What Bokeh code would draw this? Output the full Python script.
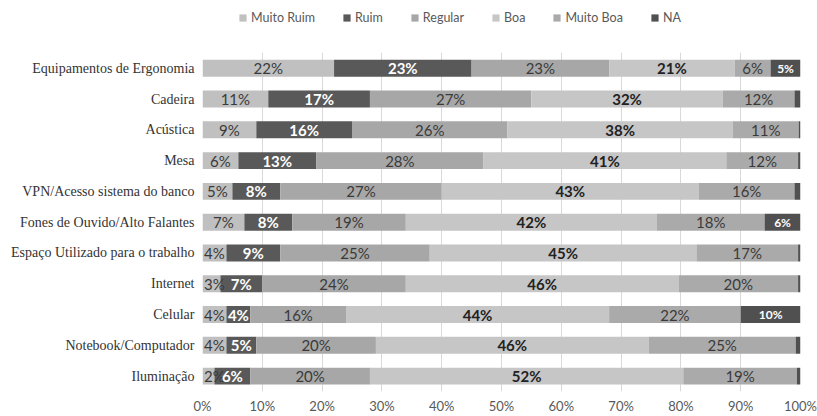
from bokeh.plotting import figure
from bokeh.models import (ColumnDataSource, Range1d, FixedTicker, LabelSet,
                          CustomJSTickFormatter, Legend, LegendItem, BoxAnnotation)
from bokeh.core.properties import value
from bokeh.embed import file_html
from bokeh.resources import INLINE

categories = ["Equipamentos de Ergonomia", "Cadeira", "Acústica", "Mesa",
              "VPN/Acesso sistema do banco", "Fones de Ouvido/Alto Falantes",
              "Espaço Utilizado para o trabalho", "Internet", "Celular",
              "Notebook/Computador", "Iluminação"]
levels = ["Muito Ruim", "Ruim", "Regular", "Boa", "Muito Boa", "NA"]

muito_ruim = [22, 11, 9, 6, 5, 7, 4, 3, 4, 4, 2]
ruim = [23, 17, 16, 13, 8, 8, 9, 7, 4, 5, 6]
regular = [23, 27, 26, 28, 27, 19, 25, 24, 16, 20, 20]
boa = [21, 32, 37.7, 40.6, 43, 42, 44.6, 45.6, 44, 45.6, 52.4]
muito_boa = [6, 12, 11, 12, 16, 18, 17, 20, 22, 24.6, 19]
na = [5, 1, 0.3, 0.4, 1, 6, 0.4, 0.4, 10, 0.8, 0.6]

x_ticks = [0, 10, 20, 30, 40, 50, 60, 70, 80, 90, 100]

colors = ["#c0c0c0", "#595959", "#a7a7a7", "#c6c6c6", "#aaaaaa", "#505050"]
label_colors = ["#3a3a3a", "#ffffff", "#3a3a3a", "#222222", "#3a3a3a", "#ffffff"]
label_styles = ["normal", "bold", "normal", "bold", "normal", "bold"]
label_sizes = ["15px", "15px", "15px", "15px", "15px", "12px"]

n = len(categories)
row_pos = [n - 1 - i for i in range(n)]  # top row first

series = [muito_ruim, ruim, regular, boa, muito_boa, na]
data = {"y": row_pos}
for name, vals in zip(levels, series):
    data[name] = vals
source = ColumnDataSource(data)

p = figure(width=817, height=416, output_backend="svg", toolbar_location=None,
           x_range=Range1d(0, 100), y_range=Range1d(-0.5, n - 0.5 + 1.70),
           min_border_left=202, min_border_right=17, min_border_top=0,
           min_border_bottom=22)
p.outline_line_color = None

renderers = p.hbar_stack(levels, y="y", height=0.55, color=colors,
                         source=source, line_color=None)

for i, name in enumerate(levels):
    xs, ys, ts = [], [], []
    for j in range(n):
        left = sum(series[k][j] for k in range(i))
        v = series[i][j]
        if v >= 1.5:
            # keep narrow first-segment labels inside the plotting frame
            xs.append(max(left + v / 2, 2.0))
            ys.append(row_pos[j])
            ts.append(f"{v:.0f}%")
    ls = ColumnDataSource(dict(x=xs, y=ys, t=ts))
    p.add_layout(LabelSet(x="x", y="y", text="t", source=ls, text_align="center",
                          text_baseline="middle", text_color=label_colors[i],
                          text_font=value("Lato"), text_font_size=value(label_sizes[i]),
                          text_font_style=label_styles[i]))

p.xgrid.grid_line_color = "#d9d9d9"
p.ygrid.grid_line_color = None
p.xaxis.ticker = FixedTicker(ticks=x_ticks)
p.xgrid.ticker = FixedTicker(ticks=x_ticks)
p.xaxis.formatter = CustomJSTickFormatter(code="return tick + '%';")
p.xaxis.axis_line_color = None
p.xaxis.major_tick_line_color = None
p.xaxis.minor_tick_line_color = None
p.xaxis.major_tick_out = 0
p.xaxis.minor_tick_out = 0
p.xaxis.major_label_text_font = "Lato"
p.xaxis.major_label_text_font_size = "13px"
p.xaxis.major_label_text_color = "#595959"
p.xaxis.major_label_standoff = 6

p.yaxis.ticker = FixedTicker(ticks=row_pos)
p.yaxis.major_label_overrides = {row_pos[j]: categories[j] for j in range(n)}
p.yaxis.axis_line_color = None
p.yaxis.major_tick_line_color = None
p.yaxis.minor_tick_line_color = None
p.yaxis.major_tick_out = 0
p.yaxis.minor_tick_out = 0
p.yaxis.major_label_text_font = "Liberation Serif"
p.yaxis.major_label_text_font_size = "14px"
p.yaxis.major_label_text_color = "#333333"
p.yaxis.major_label_standoff = 8

# hide grid lines above the bar area (legend zone)
p.add_layout(BoxAnnotation(bottom=n - 0.5, fill_color="white", fill_alpha=1.0,
                           line_color=None, level="underlay"))

legend = Legend(items=[LegendItem(label=l, renderers=[r]) for l, r in zip(levels, renderers)],
                orientation="horizontal", location=(36, 366),
                glyph_width=9, glyph_height=9, label_standoff=4, spacing=27,
                label_text_font="Lato", label_text_font_size="12.5px",
                label_text_color="#595959", border_line_color=None,
                background_fill_alpha=0, padding=0, margin=0)
p.add_layout(legend)

open("out.html", "w").write(file_html(p, INLINE))
